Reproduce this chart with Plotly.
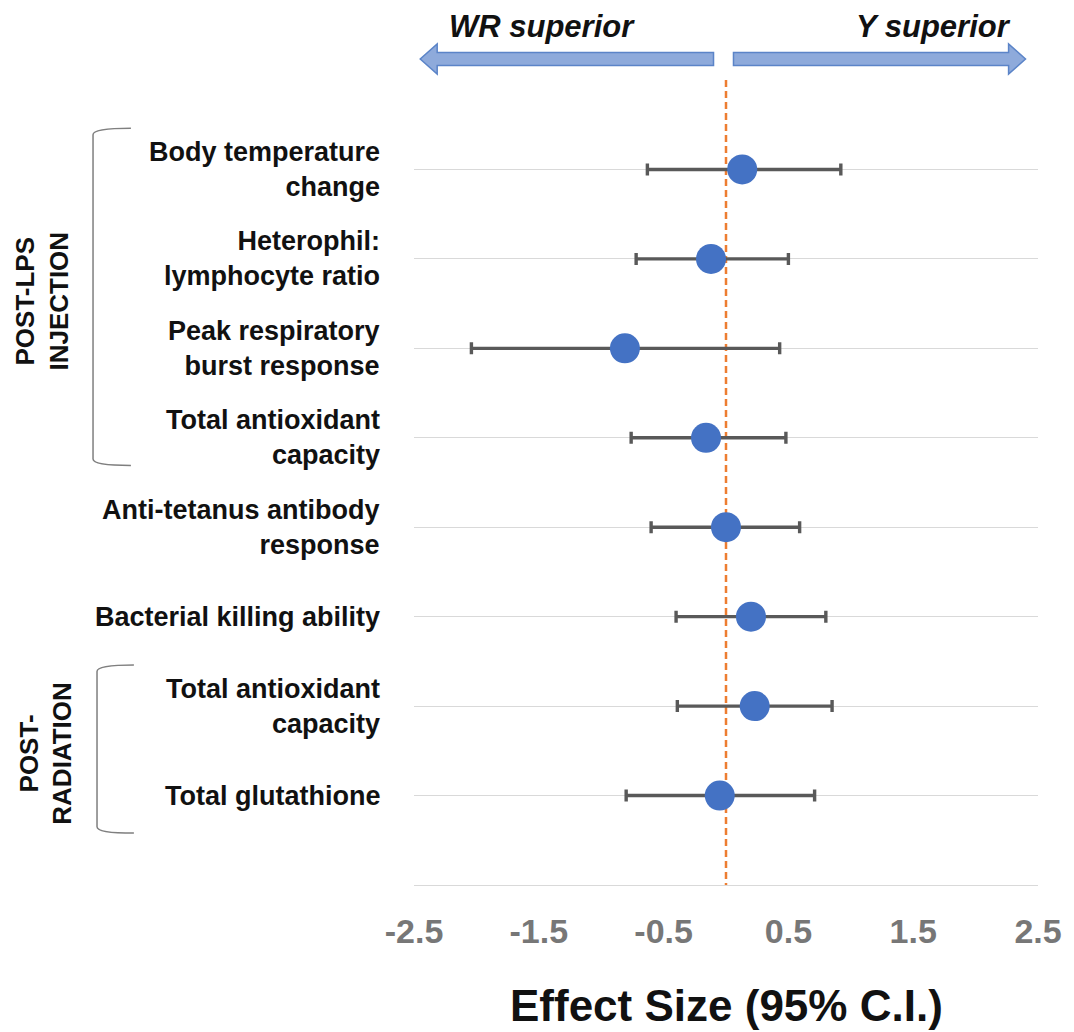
import plotly.graph_objects as go

# ---- data -------------------------------------------------------------
labels = [
    "Body temperature<br>change",
    "Heterophil:<br>lymphocyte ratio",
    "Peak respiratory<br>burst response",
    "Total antioxidant<br>capacity",
    "Anti-tetanus antibody<br>response",
    "Bacterial killing ability",
    "Total antioxidant<br>capacity",
    "Total glutathione",
]
effect = [0.13, -0.12, -0.81, -0.16, 0.00, 0.20, 0.23, -0.05]
ci_low = [-0.63, -0.72, -2.04, -0.76, -0.60, -0.40, -0.39, -0.80]
ci_high = [0.92, 0.50, 0.43, 0.48, 0.59, 0.80, 0.85, 0.71]
x_ticks = [-2.5, -1.5, -0.5, 0.5, 1.5, 2.5]
x_tick_text = ["-2.5", "-1.5", "-0.5", "0.5", "1.5", "2.5"]

# row position of each outcome (1 = top row)
rows = list(range(1, len(labels) + 1))
n_slots = len(labels) + 1          # y axis runs 0..9

# ---- styling ----------------------------------------------------------
FONT = "Liberation Sans, Arial, Helvetica, sans-serif"
BLUE = "#4472C4"
ARROW_FILL = "#8EAADB"
GREY_BAR = "#595959"
ORANGE = "#ED7D31"
GRID = "#D9D9D9"

X_MIN, X_MAX = -2.5, 2.5
PX_PER_UNIT = 125.2


def px(xv):
    """x data value -> paper coordinate"""
    return (xv - X_MIN) / (X_MAX - X_MIN)


def py(row):
    """row value (0 at top) -> paper coordinate"""
    return 1 - row / n_slots


fig = go.Figure()

# no-difference reference line
fig.add_trace(go.Scatter(
    x=[0, 0], y=[0, n_slots], mode="lines",
    line=dict(color=ORANGE, width=2.5, dash="7px,4px"),
    hoverinfo="skip", showlegend=False,
))

# effect sizes with 95% confidence intervals
fig.add_trace(go.Scatter(
    x=effect, y=rows, mode="markers",
    marker=dict(size=30, color=BLUE, line=dict(width=0)),
    error_x=dict(
        type="data", symmetric=False,
        array=[h - e for h, e in zip(ci_high, effect)],
        arrayminus=[e - l for e, l in zip(effect, ci_low)],
        color=GREY_BAR, thickness=3.4, width=6,
    ),
    showlegend=False,
))

annotations = []

# outcome labels to the left of the plot
for r, lab in zip(rows, labels):
    annotations.append(dict(
        text=lab, xref="paper", yref="paper",
        x=px(X_MIN - 32 / PX_PER_UNIT), y=py(r),
        xanchor="right", yanchor="middle", align="right", showarrow=False,
        font=dict(family=FONT, size=27, color="#111111", weight="bold"),
    ))

# group labels (rotated) with brackets
groups = [
    ("POST-LPS<br>INJECTION", 0.54, 4.31, 373, 322, 284),
    ("POST-<br>RADIATION", 6.54, 8.42, 370, 318, 281),
]
shapes = []
for text, top, bot, lab_off, br_off, end_off in groups:
    annotations.append(dict(
        text=text, xref="paper", yref="paper",
        x=px(X_MIN - lab_off / PX_PER_UNIT), y=py((top + bot) / 2 + 0.05),
        xanchor="center", yanchor="middle", align="center", textangle=-90,
        showarrow=False,
        font=dict(family=FONT, size=26, color="#111111", weight="bold"),
    ))
    bx = px(X_MIN - br_off / PX_PER_UNIT)
    ex = px(X_MIN - end_off / PX_PER_UNIT)
    yt, yb = py(top), py(bot)
    dy = 0.008
    path = (f"M {ex},{yt} Q {bx},{yt} {bx},{yt - dy} "
            f"L {bx},{yb + dy} Q {bx},{yb} {ex},{yb}")
    shapes.append(dict(
        type="path", xref="paper", yref="paper", path=path,
        line=dict(color="#7F7F7F", width=1.5),
    ))

# direction arrows above the plot
arrow_y = py(-0.235)
half_body = 6.5 / 805
half_head = 15 / 805
head_len = 17 / 626


def arrow_path(x_tail, x_tip):
    d = 1 if x_tip > x_tail else -1
    xb = x_tip - d * head_len
    return (f"M {x_tail},{arrow_y + half_body} L {xb},{arrow_y + half_body} "
            f"L {xb},{arrow_y + half_head} L {x_tip},{arrow_y} "
            f"L {xb},{arrow_y - half_head} L {xb},{arrow_y - half_body} "
            f"L {x_tail},{arrow_y - half_body} Z")


for x_tail, x_tip in [(px(-0.10), px(-2.45)), (px(0.06), px(2.40))]:
    shapes.append(dict(
        type="path", xref="paper", yref="paper", path=arrow_path(x_tail, x_tip),
        fillcolor=ARROW_FILL, line=dict(color="#5B84C8", width=1.5),
    ))

annotations.append(dict(
    text="WR superior", xref="paper", yref="paper",
    x=px(X_MIN + 33 / PX_PER_UNIT), y=py(-0.6),
    xanchor="left", yanchor="middle", showarrow=False,
    font=dict(family=FONT, size=31, color="#111111", weight="bold", style="italic"),
))
annotations.append(dict(
    text="Y superior", xref="paper", yref="paper",
    x=px(X_MAX - 25 / PX_PER_UNIT), y=py(-0.6),
    xanchor="right", yanchor="middle", showarrow=False,
    font=dict(family=FONT, size=31, color="#111111", weight="bold", style="italic"),
))

# x axis title
annotations.append(dict(
    text="Effect Size (95% C.I.)", xref="paper", yref="paper",
    x=0.5, y=py(10.35),
    xanchor="center", yanchor="middle", showarrow=False,
    font=dict(family=FONT, size=44, color="#111111", weight="bold"),
))

fig.update_layout(
    width=1074, height=1032,
    margin=dict(l=414, r=34, t=80, b=147),
    paper_bgcolor="white", plot_bgcolor="white",
    annotations=annotations, shapes=shapes,
    xaxis=dict(
        range=[X_MIN, X_MAX], tickvals=x_ticks, ticktext=x_tick_text,
        showgrid=False, zeroline=False, ticks="",
        showline=True, linecolor=GRID, linewidth=1.2,
        ticklabelstandoff=16,
        tickfont=dict(family=FONT, size=34, color="#777777", weight="bold"),
    ),
    yaxis=dict(
        range=[n_slots, 0], dtick=1, tick0=0,
        showgrid=True, gridcolor=GRID, gridwidth=1.2,
        showticklabels=False, zeroline=False, ticks="", showline=False,
    ),
)

fig.write_html("out.html")
